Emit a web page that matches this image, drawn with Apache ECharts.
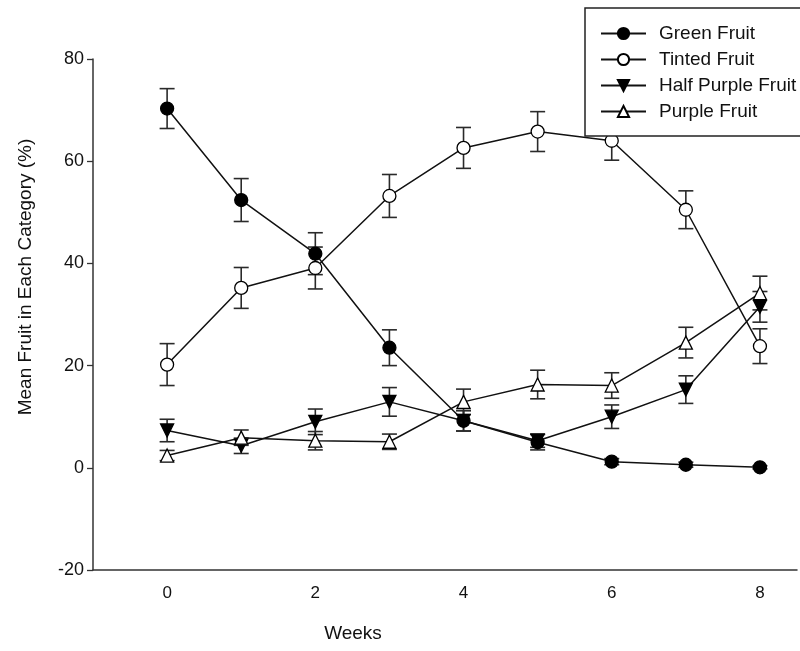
<!DOCTYPE html>
<html>
<head>
<meta charset="utf-8">
<script src="https://cdn.jsdelivr.net/npm/echarts@6/dist/echarts.min.js"></script>
<style>
html,body{margin:0;padding:0;background:#fff;}
#chart{width:800px;height:651px;}
</style>
</head>
<body>
<div id="chart"></div>
<script>
const weeks = [0, 1, 2, 3, 4, 5, 6, 7, 8];
const greenMean = [70.3, 52.4, 41.9, 23.5, 9.2, 5.0, 1.2, 0.6, 0.1];
const greenErr = [3.9, 4.2, 4.1, 3.5, 2.0, 1.5, 0.6, 0.5, 0.3];
const tintedMean = [20.2, 35.2, 39.1, 53.2, 62.6, 65.8, 64.0, 50.5, 23.8];
const tintedErr = [4.1, 4.0, 4.1, 4.2, 4.0, 3.9, 3.8, 3.7, 3.4];
const halfMean = [7.3, 4.3, 9.0, 12.9, 9.2, 5.3, 10.0, 15.3, 31.5];
const halfErr = [2.2, 1.5, 2.5, 2.8, 2.0, 1.3, 2.3, 2.7, 3.0];
const purpleMean = [2.4, 5.9, 5.3, 5.1, 12.9, 16.3, 16.1, 24.5, 34.2];
const purpleErr = [1.0, 1.5, 1.8, 1.5, 2.5, 2.8, 2.5, 3.0, 3.3];
const seriesNames = ['Green Fruit', 'Tinted Fruit', 'Half Purple Fruit', 'Purple Fruit'];
const xLabels = [0, 2, 4, 6, 8];
const yTicks = [-20, 0, 20, 40, 60, 80];

const FONT = '"Liberation Sans", Arial, sans-serif';
const downTri = 'path://M0,0 L10,0 L5,9 Z';

function pts(means) { return weeks.map((w, i) => [w, means[i]]); }
function errData(means, errs) { return weeks.map((w, i) => [w, means[i] - errs[i], means[i] + errs[i]]); }

function errSeries(means, errs) {
  return {
    type: 'custom',
    silent: true,
    z: 2,
    data: errData(means, errs),
    renderItem: function (params, api) {
      const x = api.value(0);
      const lo = api.coord([x, api.value(1)]);
      const hi = api.coord([x, api.value(2)]);
      const hw = 7.5;
      const st = { stroke: '#2a2a2a', lineWidth: 1.6 };
      return {
        type: 'group',
        children: [
          { type: 'line', shape: { x1: lo[0], y1: lo[1], x2: hi[0], y2: hi[1] }, style: st },
          { type: 'line', shape: { x1: lo[0] - hw, y1: lo[1], x2: lo[0] + hw, y2: lo[1] }, style: st },
          { type: 'line', shape: { x1: hi[0] - hw, y1: hi[1], x2: hi[0] + hw, y2: hi[1] }, style: st }
        ]
      };
    }
  };
}

function lineSeries(name, means, symbol, filled, size) {
  return {
    name: name,
    type: 'line',
    z: 3,
    data: pts(means),
    symbol: symbol,
    symbolSize: size,
    showAllSymbol: true,
    lineStyle: { color: '#111', width: 1.5 },
    itemStyle: { color: filled ? '#000' : '#fff', borderColor: '#000', borderWidth: 1.3 },
    emphasis: { disabled: true },
    animation: false
  };
}

const chart = echarts.init(document.getElementById('chart'));
chart.setOption({
  animation: false,
  backgroundColor: '#fff',
  textStyle: { fontFamily: FONT },
  grid: { left: 93, right: 0, top: 59, bottom: 81, containLabel: false },
  xAxis: {
    type: 'value', min: -1, max: 8.5, interval: 1,
    splitLine: { show: false },
    axisTick: { show: false },
    axisLine: { lineStyle: { color: '#333', width: 1.5 }, onZero: false },
    axisLabel: {
      fontSize: 17, color: '#111', margin: 15, fontFamily: FONT,
      formatter: function (v) { return xLabels.indexOf(v) >= 0 ? String(v) : ''; }
    }
  },
  yAxis: {
    type: 'value', min: yTicks[0], max: yTicks[yTicks.length - 1], interval: 20,
    splitLine: { show: false },
    axisTick: { show: true, length: 6, lineStyle: { color: '#333', width: 1.3 } },
    axisLine: { show: true, lineStyle: { color: '#333', width: 1.5 }, onZero: false },
    axisLabel: { fontSize: 18, color: '#111', margin: 9, fontFamily: FONT }
  },
  legend: {
    orient: 'vertical',
    left: 585, top: 8,
    padding: [16, 40, 15, 15],
    itemWidth: 45, itemHeight: 14, itemGap: 7,
    backgroundColor: '#fff',
    borderColor: '#222', borderWidth: 1.5,
    textStyle: { fontSize: 19, color: '#111', fontFamily: FONT, padding: [0, 0, 0, 8] },
    data: seriesNames,
    selectedMode: false,
    z: 10
  },
  graphic: [
    { type: 'text', x: 26, y: 277, rotation: Math.PI / 2,
      style: { text: 'Mean Fruit in Each Category (%)', font: '19px ' + FONT, fill: '#111', textAlign: 'center', textVerticalAlign: 'middle' } },
    { type: 'text', x: 353, y: 634,
      style: { text: 'Weeks', font: '19px ' + FONT, fill: '#111', textAlign: 'center', textVerticalAlign: 'middle' } }
  ],
  series: [
    errSeries(greenMean, greenErr),
    errSeries(tintedMean, tintedErr),
    errSeries(halfMean, halfErr),
    errSeries(purpleMean, purpleErr),
    lineSeries(seriesNames[0], greenMean, 'circle', true, 13),
    lineSeries(seriesNames[1], tintedMean, 'circle', false, 13),
    lineSeries(seriesNames[2], halfMean, downTri, true, 13),
    lineSeries(seriesNames[3], purpleMean, 'triangle', false, 13)
  ]
});
</script>
</body>
</html>
